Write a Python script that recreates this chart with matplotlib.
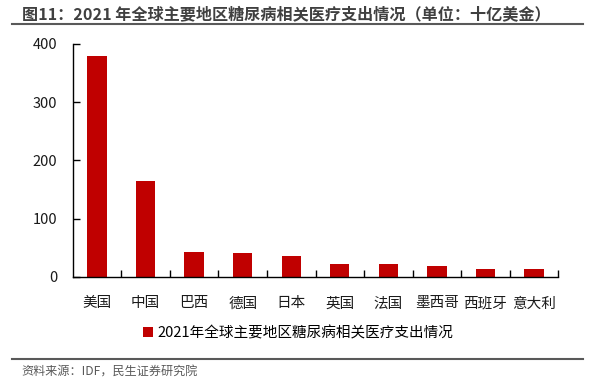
import numpy as np
import matplotlib
matplotlib.use("Agg")
import matplotlib.pyplot as plt
from matplotlib.lines import Line2D

plt.rcParams['font.family'] = ['Noto Sans CJK SC', 'DejaVu Sans']

# data (billion USD)
regions = ["美国", "中国", "巴西", "德国", "日本", "英国", "法国", "墨西哥", "西班牙", "意大利"]
spending = [379.5, 165.3, 42.9, 40.4, 35.4, 22.9, 22.2, 19.5, 14.4, 13.8]
yticks = [0, 100, 200, 300, 400]
series_name = "2021年全球主要地区糖尿病相关医疗支出情况"
title = "图11：2021 年全球主要地区糖尿病相关医疗支出情况（单位：十亿美金）"
source = "资料来源：IDF，民生证券研究院"

bar_color = "#C00000"

fig = plt.figure(figsize=(6.02, 3.81), dpi=100)
ax = fig.add_axes([0.1208, 0.2730, 0.8066, 0.6123])

x = np.arange(len(regions))
bars = ax.bar(x, spending, width=0.4, color=bar_color, label=series_name)

ax.set_xlim(-0.5, len(regions) - 0.5)
ax.set_ylim(0, 400)
ax.set_yticks(yticks)
ax.set_yticklabels([str(v) for v in yticks])

# category labels at bar centres, tick marks at category boundaries
ax.set_xticks(x)
ax.set_xticklabels(regions)
ax.set_xticks(np.arange(len(regions)) + 0.5, minor=True)
ax.tick_params(axis='x', which='major', length=0, pad=14, labelsize=10.5, labelcolor="#1a1a1a")
ax.tick_params(axis='x', which='minor', direction='in', length=5, width=1)
ax.tick_params(axis='y', direction='in', length=5, width=1, pad=11, labelsize=10.5, labelcolor="#1a1a1a")

for side in ["top", "right"]:
    ax.spines[side].set_visible(False)
for side in ["left", "bottom"]:
    ax.spines[side].set_linewidth(1)
    ax.spines[side].set_color("black")

# legend below the axis labels
fig.legend(handles=[bars], labels=[series_name], loc='center',
           bbox_to_anchor=(298 / 602, 1 - 333 / 381), frameon=False,
           fontsize=10.5, handlelength=0.7, handleheight=0.7, handletextpad=0.3)

# title and rules
fig.text(22 / 602, 1 - 14 / 381, title, fontsize=11.6, fontweight='bold',
         color="#404040", ha='left', va='center')
fig.add_artist(Line2D([12 / 602, 583 / 602], [1 - 24 / 381, 1 - 24 / 381],
                      color="#595959", linewidth=1.5, transform=fig.transFigure))
fig.add_artist(Line2D([12 / 602, 583 / 602], [1 - 358.7 / 381, 1 - 358.7 / 381],
                      color="#595959", linewidth=1.5, transform=fig.transFigure))
fig.text(21 / 602, 1 - 372 / 381, source, fontsize=8.7, color="#595959",
         ha='left', va='center')

fig.savefig("out.png", dpi=100, facecolor="white")
